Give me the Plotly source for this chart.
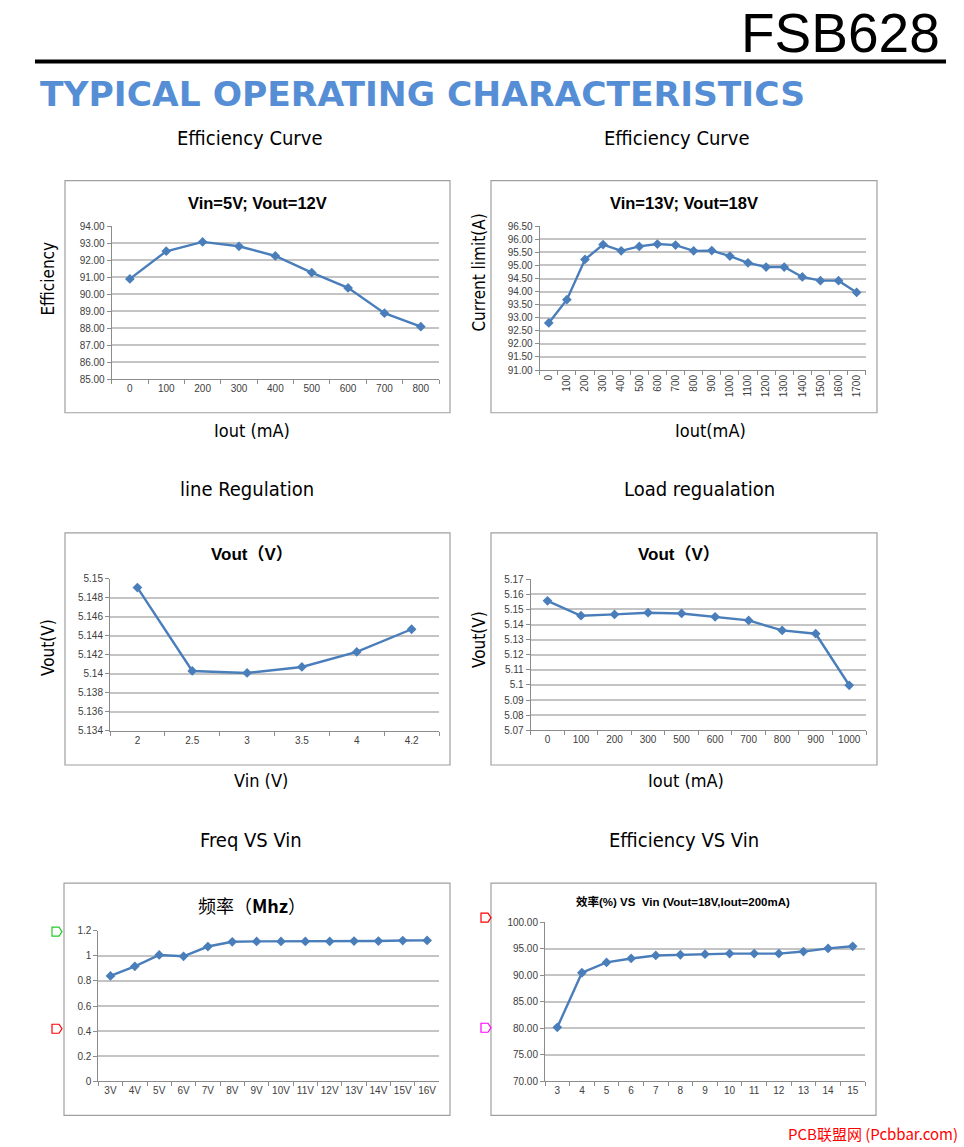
import plotly.graph_objects as go

W, H = 964, 1147

# ---------------- data ----------------
eff1_x = ["0", "100", "200", "300", "400", "500", "600", "700", "800"]
eff1_y = [90.90, 92.53, 93.08, 92.82, 92.25, 91.27, 90.37, 88.88, 88.08]

eff2_x = ["0", "100", "200", "300", "400", "500", "600", "700", "800", "900",
          "1000", "1100", "1200", "1300", "1400", "1500", "1600", "1700"]
eff2_y = [92.80, 93.69, 95.23, 95.80, 95.56, 95.73, 95.82, 95.78, 95.56, 95.57,
          95.36, 95.10, 94.94, 94.94, 94.56, 94.42, 94.42, 93.97]

line_x = ["2", "2.5", "3", "3.5", "4", "4.2"]
line_y = [5.14905, 5.14028, 5.14007, 5.1407, 5.14228, 5.14467]

load_x = ["0", "100", "200", "300", "500", "600", "700", "800", "900", "1000"]
load_y = [5.1557, 5.1458, 5.1467, 5.1478, 5.1473, 5.1451, 5.1427, 5.1361, 5.1339, 5.0998]

freq_x = ["3V", "4V", "5V", "6V", "7V", "8V", "9V", "10V", "11V", "12V", "13V", "14V", "15V", "16V"]
freq_y = [0.84, 0.917, 1.008, 0.997, 1.075, 1.113, 1.116, 1.116, 1.116, 1.116, 1.119, 1.119, 1.123, 1.124]

effv_x = ["3", "4", "5", "6", "7", "8", "9", "10", "11", "12", "13", "14", "15"]
effv_y = [80.19, 90.50, 92.45, 93.20, 93.76, 93.90, 94.00, 94.12, 94.12, 94.12, 94.50, 95.10, 95.50]

y1_ticks = [85, 86, 87, 88, 89, 90, 91, 92, 93, 94]
y2_ticks = [91, 91.5, 92, 92.5, 93, 93.5, 94, 94.5, 95, 95.5, 96, 96.5]
y3_ticks = [5.134, 5.136, 5.138, 5.14, 5.142, 5.144, 5.146, 5.148, 5.15]
y3_text = ["5.134", "5.136", "5.138", "5.14", "5.142", "5.144", "5.146", "5.148", "5.15"]
y4_ticks = [5.07, 5.08, 5.09, 5.10, 5.11, 5.12, 5.13, 5.14, 5.15, 5.16, 5.17]
y4_text = ["5.07", "5.08", "5.09", "5.1", "5.11", "5.12", "5.13", "5.14", "5.15", "5.16", "5.17"]
y5_ticks = [0, 0.2, 0.4, 0.6, 0.8, 1.0, 1.2]
y5_text = ["0", "0.2", "0.4", "0.6", "0.8", "1", "1.2"]
y6_ticks = [70, 75, 80, 85, 90, 95, 100]

# ---------------- helpers ----------------
# the page photograph maps figure rows slightly (observed ~1% squeeze, ~5.6px offset);
# place items so they land on the reference pixel rows
VS, VOFF = 0.9896, 5.6

def px(x):
    return x / W

def py(y):
    return 1 - ((y - VOFF) / VS) / H

LINE = "#4A7EBB"
GRID = "#C4C4C4"
AXIS = "#8C8C8C"
TICKFONT = dict(family="Liberation Sans, Arial", size=10, color="#404040")
NARROW = "Liberation Sans Narrow, DejaVu Sans Condensed, Liberation Sans"

fig = go.Figure()
layout = dict(
    width=W, height=H, margin=dict(l=0, r=0, t=0, b=0),
    paper_bgcolor="white", plot_bgcolor="white", showlegend=False,
)

charts = [
    (eff1_x, eff1_y, (111.7, 439), (226.7, 379.3), y1_ticks, ["%.2f" % v for v in y1_ticks], (85, 94), 0),
    (eff2_x, eff2_y, (539.7, 865.7), (226.7, 370.3), y2_ticks, ["%.2f" % v for v in y2_ticks], (91, 96.5), -90),
    (line_x, line_y, (110, 439), (578.7, 730.7), y3_ticks, y3_text, (5.134, 5.15), 0),
    (load_x, load_y, (530.7, 866), (579.3, 730.3), y4_ticks, y4_text, (5.07, 5.17), 0),
    (freq_x, freq_y, (98.3, 439.3), (930.7, 1081), y5_ticks, y5_text, (0, 1.2), 0),
    (effv_x, effv_y, (545, 865), (922.3, 1081), y6_ticks, ["%.2f" % v for v in y6_ticks], (70, 100), 0),
]

for i, (xc, yv, xd, yd, yt, ytt, yr, ang) in enumerate(charts, start=1):
    xa = "x" if i == 1 else "x%d" % i
    ya = "y" if i == 1 else "y%d" % i
    fig.add_trace(go.Scatter(
        x=xc, y=yv, mode="lines+markers", xaxis=xa, yaxis=ya,
        line=dict(color=LINE, width=2.4),
        marker=dict(symbol="diamond", size=7.5, color=LINE),
        cliponaxis=False,
    ))
    xkey = "xaxis" if i == 1 else "xaxis%d" % i
    ykey = "yaxis" if i == 1 else "yaxis%d" % i
    layout[xkey] = dict(
        domain=[px(xd[0]), px(xd[1])], anchor=ya, type="category",
        categoryorder="array", categoryarray=xc,
        range=[-0.5, len(xc) - 0.5],
        showgrid=False, showline=True, linecolor=AXIS, linewidth=1,
        ticks="outside", tickson="boundaries", ticklen=4, tickcolor=AXIS,
        tickfont=TICKFONT, tickangle=ang, zeroline=False, fixedrange=True,
    )
    layout[ykey] = dict(
        domain=[py(yd[1]), py(yd[0])], anchor=xa, range=list(yr),
        tickmode="array", tickvals=yt, ticktext=ytt,
        showgrid=True, gridcolor=GRID, gridwidth=1.5,
        showline=True, linecolor=AXIS, linewidth=1,
        ticks="outside", ticklen=4, tickcolor=AXIS,
        tickfont=TICKFONT, zeroline=False, fixedrange=True,
    )

fig.update_layout(**layout)

shapes = []
frames = [(65, 181, 450, 413), (491, 181, 877, 413), (65, 533, 450, 765),
          (491, 533, 877, 765), (64, 883, 450, 1115), (491, 883, 876, 1115)]
for (x0, y0, x1, y1) in frames:
    shapes.append(dict(type="rect", xref="paper", yref="paper",
                       x0=px(x0), x1=px(x1), y0=py(y1), y1=py(y0),
                       line=dict(color="#A0A0A0", width=1.2)))
shapes.append(dict(type="line", xref="paper", yref="paper",
                   x0=px(35), x1=px(946), y0=py(62), y1=py(62),
                   line=dict(color="black", width=4)))

def tag(x0, y0, color):
    pts = [(x0, y0), (x0 + 7, y0), (x0 + 10, y0 + 4.5), (x0 + 7, y0 + 9), (x0, y0 + 9)]
    path = "M " + " L ".join("%.5f,%.5f" % (px(a), py(b)) for a, b in pts) + " Z"
    return dict(type="path", xref="paper", yref="paper", path=path,
                line=dict(color=color, width=1.2))

shapes += [tag(52, 927, "#22CC22"), tag(52, 1024, "#FF0000"),
           tag(481, 913, "#FF0000"), tag(481, 1023, "#FF00FF")]
fig.update_layout(shapes=shapes)

ann = []
def text(x, y, s, size, family="Liberation Sans, Arial", color="black", bold=False,
         angle=0, xanchor="center"):
    if bold:
        s = "<b>" + s + "</b>"
    ann.append(dict(x=px(x), y=py(y), xref="paper", yref="paper", text=s,
                    showarrow=False, xanchor=xanchor, yanchor="middle", textangle=angle,
                    font=dict(family=family, size=size, color=color)))

text(840, 34, "FSB628", 55)
text(38, 95, "TYPICAL OPERATING CHARACTERISTICS", 34.5, family="DejaVu Sans, Liberation Sans",
     color="#558ED5", bold=True, xanchor="left")

text(249, 138, "Efficiency Curve", 20, family=NARROW)
text(676, 138, "Efficiency Curve", 20, family=NARROW)
text(247, 489, "line Regulation", 20, family=NARROW)
text(699, 489, "Load regualation", 20, family=NARROW)
text(251, 840, "Freq VS Vin", 20, family=NARROW)
text(684, 840, "Efficiency VS Vin", 20, family=NARROW)

text(257, 203, "Vin=5V; Vout=12V", 16.5, bold=True)
text(684, 203, "Vin=13V; Vout=18V", 16.5, bold=True)
text(252, 555, "Vout（V）", 17, family="Liberation Sans, Noto Sans CJK SC", bold=True)
text(679, 555, "Vout（V）", 17, family="Liberation Sans, Noto Sans CJK SC", bold=True)
text(252, 905, "频率（<b>Mhz</b>）", 18, family="Noto Sans CJK SC")
text(683, 901, "<b>效率(%) VS  Vin (Vout=18V,Iout=200mA)</b>", 11.5,
     family="Liberation Sans, Noto Sans CJK SC")

text(48, 279, "Efficiency", 17, family=NARROW, angle=-90)
text(479, 273, "Current limit(A)", 17, family=NARROW, angle=-90)
text(48, 648, "Vout(V)", 17, family=NARROW, angle=-90)
text(479, 640, "Vout(V)", 17, family=NARROW, angle=-90)
text(252, 431, "Iout (mA)", 18, family=NARROW)
text(710, 431, "Iout(mA)", 18, family=NARROW)
text(261, 780, "Vin (V)", 18, family=NARROW)
text(686, 780, "Iout (mA)", 18, family=NARROW)

text(960, 1133, "PCB联盟网 (Pcbbar.com)", 15, family="Noto Sans CJK SC",
     color="#FF0000", xanchor="right")

fig.update_layout(annotations=ann)
fig.write_html(
    "out.html",
    config={"displayModeBar": False},
    post_script=(
        "document.documentElement.style.margin='0';document.body.style.margin='0';"
        "document.body.style.overflow='hidden';document.documentElement.style.overflow='hidden';"
        "var gd=document.getElementById('{plot_id}');"
        "gd.style.position='absolute';gd.style.top='0px';gd.style.left='0px';"
    ),
)
